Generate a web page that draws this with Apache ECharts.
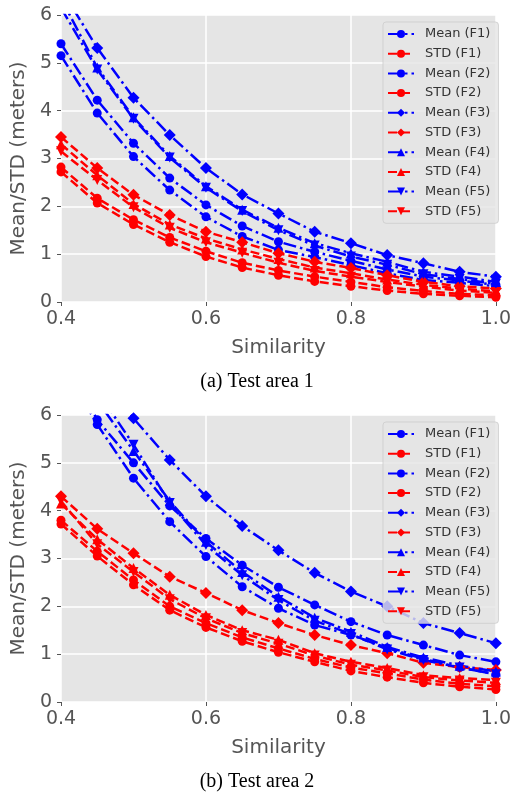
<!DOCTYPE html>
<html>
<head>
<meta charset="utf-8">
<script src="https://cdn.jsdelivr.net/npm/echarts@6/dist/echarts.min.js"></script>
<style>
  html, body { margin: 0; padding: 0; background: #fff; }
  #chart { width: 514px; height: 798px; }
</style>
</head>
<body>
<div id="chart"></div>
<script>
// x values (similarity threshold)
const similarity = [0.4, 0.45, 0.5, 0.55, 0.6, 0.65, 0.7, 0.75, 0.8, 0.85, 0.9, 0.95, 1.0];
const xTicks = [0.4, 0.6, 0.8, 1.0];
const yTicks = [0, 1, 2, 3, 4, 5, 6];
const legendNames = ["Mean (F1)", "STD (F1)", "Mean (F2)", "STD (F2)", "Mean (F3)", "STD (F3)",
  "Mean (F4)", "STD (F4)", "Mean (F5)", "STD (F5)"];
const captions = ["(a) Test area 1", "(b) Test area 2"];

// test area 1
const a1MeanF1 = [5.15, 3.95, 3.04, 2.34, 1.78, 1.37, 1.09, 0.94, 0.77, 0.6, 0.46, 0.4, 0.33];
const a1StdF1 = [2.72, 2.07, 1.62, 1.25, 0.95, 0.72, 0.56, 0.43, 0.33, 0.24, 0.17, 0.13, 0.1];
const a1MeanF2 = [5.4, 4.22, 3.32, 2.59, 2.03, 1.59, 1.26, 1.05, 0.86, 0.68, 0.53, 0.45, 0.36];
const a1StdF2 = [2.82, 2.17, 1.72, 1.35, 1.06, 0.82, 0.66, 0.53, 0.42, 0.31, 0.23, 0.17, 0.14];
const a1MeanF3 = [6.55, 5.31, 4.27, 3.49, 2.8, 2.25, 1.85, 1.47, 1.23, 0.98, 0.81, 0.63, 0.53];
const a1StdF3 = [3.45, 2.8, 2.24, 1.82, 1.47, 1.25, 1.02, 0.84, 0.71, 0.56, 0.42, 0.33, 0.28];
const a1MeanF4 = [6.35, 4.9, 3.86, 3.05, 2.42, 1.93, 1.55, 1.23, 1.02, 0.84, 0.63, 0.53, 0.42];
const a1StdF4 = [3.3, 2.65, 2.05, 1.62, 1.33, 1.1, 0.9, 0.72, 0.6, 0.47, 0.36, 0.28, 0.22];
const a1MeanF5 = [6.15, 4.86, 3.83, 3.02, 2.39, 1.9, 1.5, 1.18, 0.95, 0.78, 0.58, 0.48, 0.38];
const a1StdF5 = [3.15, 2.55, 1.98, 1.55, 1.25, 1.03, 0.82, 0.65, 0.53, 0.42, 0.32, 0.24, 0.19];

// test area 2
const a2MeanF1 = [7.1, 5.8, 4.68, 3.77, 3.04, 2.41, 1.96, 1.61, 1.4, 1.13, 0.9, 0.72, 0.58];
const a2StdF1 = [3.72, 3.05, 2.45, 1.92, 1.56, 1.27, 1.04, 0.84, 0.65, 0.52, 0.4, 0.32, 0.26];
const a2MeanF2 = [7.3, 5.9, 5.0, 4.1, 3.42, 2.86, 2.4, 2.03, 1.68, 1.4, 1.19, 0.98, 0.84];
const a2StdF2 = [3.8, 3.15, 2.55, 2.0, 1.65, 1.35, 1.12, 0.9, 0.72, 0.6, 0.47, 0.38, 0.33];
const a2MeanF3 = [8.4, 7.0, 5.93, 5.06, 4.3, 3.68, 3.17, 2.7, 2.31, 2.0, 1.65, 1.44, 1.23];
const a2StdF3 = [4.3, 3.62, 3.11, 2.62, 2.28, 1.92, 1.65, 1.4, 1.19, 1.02, 0.82, 0.73, 0.67];
const a2MeanF4 = [7.8, 6.3, 5.25, 4.2, 3.35, 2.72, 2.2, 1.76, 1.47, 1.15, 0.93, 0.76, 0.64];
const a2StdF4 = [4.15, 3.4, 2.8, 2.24, 1.82, 1.5, 1.3, 1.02, 0.84, 0.71, 0.56, 0.5, 0.46];
const a2MeanF5 = [8.0, 6.5, 5.38, 4.16, 3.28, 2.65, 2.13, 1.7, 1.42, 1.1, 0.88, 0.72, 0.58];
const a2StdF5 = [4.2, 3.3, 2.72, 2.15, 1.75, 1.44, 1.22, 0.97, 0.78, 0.66, 0.52, 0.45, 0.4];

const area1 = [a1MeanF1, a1StdF1, a1MeanF2, a1StdF2, a1MeanF3, a1StdF3, a1MeanF4, a1StdF4, a1MeanF5, a1StdF5];
const area2 = [a2MeanF1, a2StdF1, a2MeanF2, a2StdF2, a2MeanF3, a2StdF3, a2MeanF4, a2StdF4, a2MeanF5, a2StdF5];

// marker per feature set: o, o, D, ^, v
const markers = [
  { symbol: "circle", size: 9, rotate: 0 },
  { symbol: "circle", size: 9, rotate: 0 },
  { symbol: "diamond", size: 12, rotate: 0 },
  { symbol: "triangle", size: 10, rotate: 0 },
  { symbol: "triangle", size: 10, rotate: 180 },
];

const chart = echarts.init(document.getElementById("chart"));
const font = "DejaVu Sans";
const grey = "#555555";

function makeSeries(values, gridIdx) {
  return values.map((arr, i) => {
    const isMean = i % 2 === 0;
    const m = markers[Math.floor(i / 2)];
    const color = isMean ? "#0000ff" : "#ff0000";
    return {
      name: legendNames[i],
      type: "line",
      xAxisIndex: gridIdx,
      yAxisIndex: gridIdx,
      data: similarity.map((x, j) => [x, arr[j]]),
      symbol: m.symbol,
      symbolSize: m.size,
      symbolRotate: m.rotate,
      showAllSymbol: true,
      silent: true,
      animation: false,
      itemStyle: { color: color, borderWidth: 0 },
      lineStyle: {
        color: color,
        width: 2.5,
        type: isMean ? [13, 4, 2.5, 4] : [9, 4],
      },
    };
  });
}

function makeXAxis(gridIdx) {
  return {
    type: "value",
    gridIndex: gridIdx,
    min: 0.4,
    max: 1.0,
    interval: 0.2,
    name: "Similarity",
    nameLocation: "middle",
    nameGap: 36,
    nameTextStyle: { fontFamily: font, fontSize: 20, color: grey },
    axisLine: { show: false },
    axisTick: { show: true, length: 4, lineStyle: { color: grey } },
    axisLabel: {
      fontFamily: font, fontSize: 19, color: grey, margin: 8,
      formatter: (v) => (xTicks.includes(+v.toFixed(2)) ? v.toFixed(1) : ""),
    },
    splitLine: { show: true, lineStyle: { color: "#ffffff", width: 1.5 } },
  };
}

function makeYAxis(gridIdx) {
  return {
    type: "value",
    gridIndex: gridIdx,
    min: yTicks[0],
    max: yTicks[yTicks.length - 1],
    interval: 1,
    name: "Mean/STD (meters)",
    nameLocation: "middle",
    nameGap: 32,
    nameTextStyle: { fontFamily: font, fontSize: 20, color: grey },
    axisLine: { show: false },
    axisTick: { show: true, length: 4, lineStyle: { color: grey } },
    axisLabel: { fontFamily: font, fontSize: 19, color: grey, margin: 9 },
    splitLine: { show: true, lineStyle: { color: "#ffffff", width: 1.5 } },
  };
}

function makeLegend(top) {
  return {
    data: legendNames,
    orient: "vertical",
    left: 383,
    top: top,
    itemWidth: 26,
    itemHeight: 10,
    itemGap: 5.7,
    padding: [5, 8, 5, 4],
    backgroundColor: "rgba(229,229,229,0.8)",
    borderColor: "rgba(204,204,204,0.8)",
    borderWidth: 1,
    borderRadius: 3,
    selectedMode: false,
    textStyle: { fontFamily: font, fontSize: 13, lineHeight: 14, color: "#333333", padding: [0, 0, 0, 6] },
  };
}

const option = {
  animation: false,
  backgroundColor: "#ffffff",
  grid: [
    { left: 61, top: 15, width: 435, height: 287, show: true, backgroundColor: "#e5e5e5", borderWidth: 0 },
    { left: 61, top: 415, width: 435, height: 287, show: true, backgroundColor: "#e5e5e5", borderWidth: 0 },
  ],
  xAxis: [makeXAxis(0), makeXAxis(1)],
  yAxis: [makeYAxis(0), makeYAxis(1)],
  legend: [makeLegend(22), makeLegend(422)],
  series: makeSeries(area1, 0).concat(makeSeries(area2, 1)),
  graphic: [
    {
      type: "text", left: "center", top: 372,
      style: { text: captions[0], font: '20px "Liberation Serif"', fill: "#000" },
    },
    {
      type: "text", left: "center", top: 772,
      style: { text: captions[1], font: '20px "Liberation Serif"', fill: "#000" },
    },
  ],
};

chart.setOption(option);
</script>
</body>
</html>
